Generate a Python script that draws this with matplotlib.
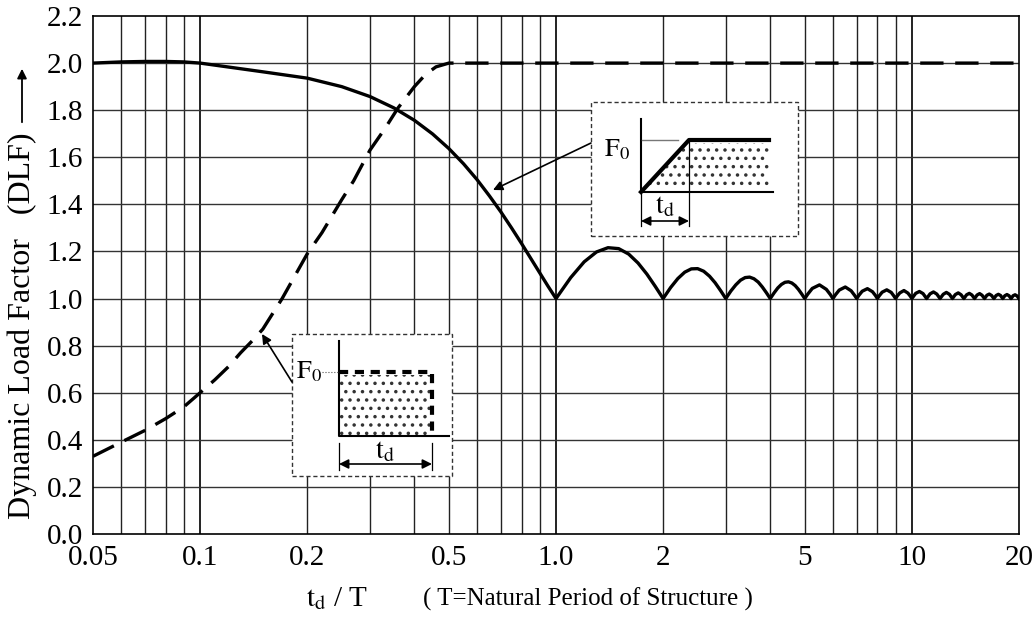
import matplotlib
matplotlib.use("Agg")
import matplotlib.pyplot as plt
from matplotlib.patches import Rectangle, Polygon
from matplotlib.lines import Line2D

plt.rcParams['font.family'] = ['Liberation Serif', 'DejaVu Serif']
plt.rcParams['mathtext.fontset'] = 'stix'
plt.rcParams['hatch.linewidth'] = 1.3

# ---- data ----
# Ramp load (solid curve)
ramp_td = [0.05, 0.06, 0.07, 0.08, 0.09, 0.10, 0.15, 0.20, 0.25, 0.30, 0.35, 0.40,
           0.45, 0.50, 0.55, 0.60, 0.65, 0.70, 0.75, 0.80, 0.85, 0.90, 0.95, 1.00,
           1.10, 1.20, 1.30, 1.40, 1.50, 1.60, 1.70, 1.80, 1.90, 2.00,
           2.10, 2.20, 2.30, 2.40, 2.50, 2.60, 2.70, 2.80, 2.90, 3.00,
           3.10, 3.20, 3.30, 3.40, 3.50, 3.60, 3.70, 3.80, 3.90, 4.00,
           4.10, 4.20, 4.30, 4.40, 4.50, 4.60, 4.70, 4.80, 4.90, 5.00,
           5.10, 5.25, 5.50, 5.75, 5.90, 6.00,
           6.10, 6.25, 6.50, 6.75, 6.90, 7.00,
           7.10, 7.25, 7.50, 7.75, 7.90, 8.00,
           8.10, 8.25, 8.50, 8.75, 8.90, 9.00,
           9.10, 9.25, 9.50, 9.75, 9.90, 10.0,
           10.25, 10.5, 10.75, 11.0, 11.25, 11.5, 11.75, 12.0,
           12.25, 12.5, 12.75, 13.0, 13.25, 13.5, 13.75, 14.0,
           14.25, 14.5, 14.75, 15.0, 15.25, 15.5, 15.75, 16.0,
           16.25, 16.5, 16.75, 17.0, 17.25, 17.5, 17.75, 18.0,
           18.25, 18.5, 18.75, 19.0, 19.25, 19.5, 19.75, 20.0]
ramp_dlf = [2.000, 2.005, 2.007, 2.007, 2.005, 2.000, 1.963, 1.936, 1.900, 1.858, 1.810, 1.757,
            1.699, 1.637, 1.572, 1.505, 1.436, 1.368, 1.300, 1.234, 1.170, 1.109, 1.052, 1.000,
            1.089, 1.156, 1.198, 1.216, 1.212, 1.189, 1.151, 1.104, 1.052, 1.000,
            1.047, 1.085, 1.112, 1.126, 1.127, 1.116, 1.095, 1.067, 1.034, 1.000,
            1.032, 1.058, 1.078, 1.089, 1.091, 1.084, 1.070, 1.049, 1.025, 1.000,
            1.024, 1.045, 1.060, 1.069, 1.071, 1.066, 1.055, 1.039, 1.020, 1.000,
            1.019, 1.043, 1.058, 1.039, 1.017, 1.000,
            1.016, 1.036, 1.049, 1.033, 1.014, 1.000,
            1.014, 1.031, 1.042, 1.029, 1.013, 1.000,
            1.012, 1.027, 1.037, 1.026, 1.011, 1.000,
            1.011, 1.024, 1.034, 1.023, 1.010, 1.000,
            1.022, 1.030, 1.021, 1.000, 1.020, 1.028, 1.019, 1.000,
            1.018, 1.026, 1.018, 1.000, 1.017, 1.024, 1.016, 1.000,
            1.016, 1.022, 1.015, 1.000, 1.015, 1.021, 1.014, 1.000,
            1.014, 1.019, 1.013, 1.000, 1.013, 1.018, 1.013, 1.000,
            1.012, 1.017, 1.012, 1.000, 1.012, 1.016, 1.011, 1.000]

# Rectangular pulse (dashed curve)
rect_td = [0.05, 0.06, 0.07, 0.08, 0.09, 0.10, 0.11, 0.12, 0.13, 0.14, 0.15, 0.17,
           0.20, 0.22, 0.25, 0.27, 0.30, 0.33, 0.36, 0.40, 0.43, 0.46, 0.50, 20.0]
rect_dlf = [0.33, 0.39, 0.44, 0.49, 0.54, 0.60, 0.655, 0.71, 0.77, 0.82, 0.87, 1.00,
            1.19, 1.28, 1.42, 1.50, 1.63, 1.72, 1.81, 1.90, 1.952, 1.984, 2.00, 2.00]

x_ticks = [0.05, 0.1, 0.2, 0.5, 1.0, 2, 5, 10, 20]
x_tick_labels = ['0.05', '0.1', '0.2', '0.5', '1.0', '2', '5', '10', '20']
x_grid = [0.06, 0.07, 0.08, 0.09, 0.1, 0.2, 0.3, 0.4, 0.5, 0.6, 0.7, 0.8, 0.9, 1.0,
          2, 3, 4, 5, 6, 7, 8, 9, 10]
y_ticks = [0.0, 0.2, 0.4, 0.6, 0.8, 1.0, 1.2, 1.4, 1.6, 1.8, 2.0, 2.2]

# ---- figure ----
W, H = 1032, 617
fig = plt.figure(figsize=(W / 100, H / 100), dpi=100)
L, R, T, B = 93, 1019, 16, 534
ax = fig.add_axes([L / W, 1 - B / H, (R - L) / W, (B - T) / H])
ax.set_xscale('log')
ax.set_xlim(0.05, 20)
ax.set_ylim(0, 2.2)

# grid
for xv in x_grid:
    lw = 1.4 if xv in (0.1, 1.0, 10) else 1.0
    ax.axvline(xv, color='#222222', lw=lw, zorder=1)
for yv in y_ticks[1:-1]:
    ax.axhline(yv, color='#333333', lw=1.0, zorder=1)

ax.set_xticks(x_ticks)
ax.set_xticklabels(x_tick_labels)
ax.xaxis.set_minor_locator(matplotlib.ticker.NullLocator())
ax.set_yticks(y_ticks)
ax.set_yticklabels([f'{v:.1f}' for v in y_ticks])
ax.tick_params(axis='both', length=0, labelsize=21)
ax.tick_params(axis='x', pad=8)
ax.tick_params(axis='y', pad=7)
for s in ax.spines.values():
    s.set_linewidth(1.2)
    s.set_color('black')

# curves
ax.plot(ramp_td, ramp_dlf, color='black', lw=2.4, zorder=4, solid_joinstyle='round')
ax.plot(rect_td, rect_dlf, color='black', lw=2.4, dashes=(7, 3.5), zorder=4)

# ---- insets (axes-fraction coordinates from pixel positions) ----
def P(px, py):
    return ((px - L) / (R - L), (B - py) / (B - T))

tA = ax.transAxes

def box(x0, y0, x1, y1):
    a = P(x0, y1)
    b = P(x1, y0)
    ax.add_patch(Rectangle(a, b[0] - a[0], b[1] - a[1], transform=tA, facecolor='white',
                           edgecolor='#333333', lw=1.0, ls=(0, (3, 2)), zorder=6))

def dotted(pts):
    ax.add_patch(Polygon([P(*p) for p in pts], closed=True, transform=tA,
                         facecolor='white', edgecolor='#333333', lw=0, hatch='..', zorder=7))

def line(pts, **kw):
    xs = [P(*p)[0] for p in pts]
    ys = [P(*p)[1] for p in pts]
    ax.add_line(Line2D(xs, ys, transform=tA, zorder=8, **kw))

def arrow(p_from, p_to, both=False):
    ax.annotate('', xy=P(*p_to), xytext=P(*p_from), xycoords=tA, textcoords=tA,
                arrowprops=dict(arrowstyle='<|-|>' if both else '-|>', color='black',
                                lw=1.2, mutation_scale=14, shrinkA=0, shrinkB=0),
                zorder=9)

# rectangular-pulse inset
box(292, 334, 452, 476)
dotted([(340, 435), (340, 375), (430, 375), (430, 435)])
line([(339, 341), (339, 436), (449, 436)], color='black', lw=1.5)
line([(339, 372), (432, 372), (432, 436)], color='black', lw=3.0, ls=(0, (2.2, 1.6)))
line([(322, 372), (339, 372)], color='#555555', lw=0.8, ls=':')
line([(339, 443), (339, 470)], color='black', lw=0.9)
line([(432, 443), (432, 470)], color='black', lw=0.9)
arrow((339, 464), (432, 464), both=True)
ax.text(*P(385, 452), r'$\mathrm{t_d}$', transform=tA, ha='center', va='center',
        fontsize=20, zorder=9)
ax.text(*P(322, 372), r'$\mathrm{F_0}$', transform=tA, ha='right', va='center',
        fontsize=19, zorder=9)
arrow((292, 382), (262, 334))

# ramp inset
box(591, 102, 798, 236)
dotted([(643, 189), (689, 143), (769, 143), (769, 189)])
line([(641, 119), (641, 192), (773, 192)], color='black', lw=1.5)
line([(641, 192), (689, 140), (769, 140)], color='black', lw=3.0)
line([(642, 140), (678, 140)], color='#777777', lw=1.0)
line([(689, 140), (689, 226)], color='black', lw=0.9)
line([(641, 192), (641, 226)], color='black', lw=0.9)
arrow((641, 221), (689, 221), both=True)
ax.text(*P(665, 207), r'$\mathrm{t_d}$', transform=tA, ha='center', va='center',
        fontsize=20, zorder=9)
ax.text(*P(617, 150), r'$\mathrm{F_0}$', transform=tA, ha='center', va='center',
        fontsize=19, zorder=9)
arrow((591, 143), (493, 190))

# ---- labels ----
fig.text(22 / W, 1 - 326 / H, 'Dynamic Load Factor   (DLF)', rotation=90,
         ha='center', va='center', fontsize=23)
fig.add_artist(matplotlib.patches.FancyArrowPatch(
    (22 / W, 1 - 125 / H), (22 / W, 1 - 66 / H), transform=fig.transFigure,
    arrowstyle='-|>', mutation_scale=14, color='black', lw=1.3))
fig.text(337 / W, 1 - 599 / H, r'$\mathrm{t_d}$ / T', ha='center', va='center', fontsize=21)
fig.text(588 / W, 1 - 599 / H, '( T=Natural Period of Structure )', ha='center',
         va='center', fontsize=18)

fig.savefig('out.png', dpi=100)
